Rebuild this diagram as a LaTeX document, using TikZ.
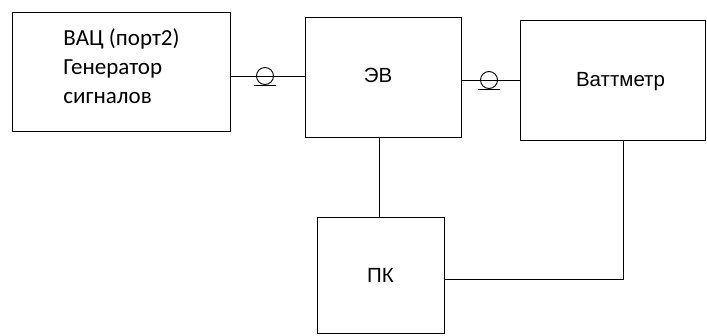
\documentclass[tikz,border=0pt]{standalone}
\usepackage{fontspec}
\setmainfont{Liberation Sans}
\newfontfamily\calibrifont{Carlito}
\usetikzlibrary{positioning,calc}

\begin{document}
\begin{tikzpicture}[x=1pt, y=1pt, line width=0.9pt]
  \tikzstyle{every node} = [font=\fontsize{20.5}{24}\selectfont]
  \tikzstyle{block} = [draw, rectangle, inner sep=0pt]
  \tikzstyle{genline} = [anchor=base west, inner sep=0pt, font=\calibrifont\fontsize{23}{27}\selectfont]
  \tikzstyle{cable} = [draw, circle, minimum size=17pt, inner sep=0pt]

  \useasboundingbox (0,0) rectangle (707,-335);

  % blocks
  \node[block, minimum width=218pt, minimum height=119pt] (gen) at (121,-71.5) {};
  \node[block, minimum width=156pt, minimum height=120pt,
        label={[xshift=-5pt, yshift=2pt]center:ЭВ}] (ev) at (383,-77) {};
  \node[block, minimum width=185pt, minimum height=120pt,
        label={[xshift=8pt, yshift=-2pt]center:Ваттметр}] (wm) at (612.5,-80) {};
  \node[block, minimum width=127pt, minimum height=116pt] (pc) at (380.5,-275) {ПК};

  % generator text
  \node[genline] (gl1) at (63,-45)  {ВАЦ (порт2)};
  \node[genline] (gl2) at (63,-74)  {Генератор};
  \node[genline] (gl3) at (63,-103) {сигналов};

  % cable symbols
  \node[cable] (k1) at (265,-76) {};
  \node[cable] (k2) at (489,-80) {};
  \draw ([xshift=-11pt]k1.south) -- ([xshift=11pt]k1.south);
  \draw ([xshift=-11pt]k2.south) -- ([xshift=11pt]k2.south);

  % connection lines
  \draw (gen.east |- k1) -- (k1 -| ev.west);
  \draw (ev.east |- k2) -- (k2 -| wm.west);
  \coordinate (evpc) at (379,0);
  \draw (evpc |- ev.south) -- (evpc |- pc.north);
  \coordinate (corner) at (623,-279);
  \draw (corner |- wm.south) -- (corner) -- (corner -| pc.east);

\end{tikzpicture}
\end{document}
